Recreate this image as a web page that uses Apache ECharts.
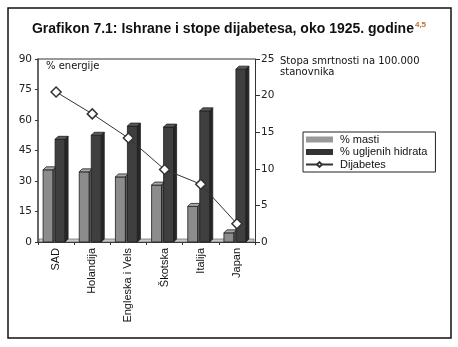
<!DOCTYPE html>
<html>
<head>
<meta charset="utf-8">
<script src="https://cdn.jsdelivr.net/npm/echarts@6/dist/echarts.min.js"></script>
<style>
  html, body { margin: 0; padding: 0; background: #fff; }
  #chart { width: 458px; height: 347px; }
</style>
</head>
<body>
<div id="chart"></div>
<script>
// Diet composition and diabetes mortality, around 1925
const countries = ['SAD', 'Holandija', 'Engleska i Vels', 'Škotska', 'Italija', 'Japan'];
const fatShare = [35.5, 34.5, 32, 28, 17.5, 4.5];          // % energije iz masti
const carbShare = [50.5, 52.5, 57, 56.5, 64.5, 85];        // % energije iz ugljenih hidrata
const diabetesRate = [20.5, 17.5, 14.2, 9.9, 7.9, 2.5];    // smrtnost na 100.000 stanovnika
const leftTicks = [0, 15, 30, 45, 60, 75, 90];
const rightTicks = [0, 5, 10, 15, 20, 25];

const chart = echarts.init(document.getElementById('chart'));

// Pseudo-3D column: front face, top face and right side face
function columnRenderer(offset, faces) {
  return function (params, api) {
    const idx = api.value(0);
    const top = api.coord([idx, api.value(1)]);
    const base = api.coord([idx, 0]);
    const w = 10, d = 3;
    const x0 = top[0] + offset;
    const y0 = top[1];
    const y1 = base[1];
    return {
      type: 'group',
      children: [
        { type: 'rect', shape: { x: x0, y: y0, width: w, height: y1 - y0 },
          style: { fill: faces.front, stroke: '#1e1e1e', lineWidth: 0.8 } },
        { type: 'polygon', shape: { points: [[x0, y0], [x0 + d, y0 - d], [x0 + w + d, y0 - d], [x0 + w, y0]] },
          style: { fill: faces.top, stroke: '#1e1e1e', lineWidth: 0.8 } },
        { type: 'polygon', shape: { points: [[x0 + w, y0], [x0 + w + d, y0 - d], [x0 + w + d, y1 - d], [x0 + w, y1]] },
          style: { fill: faces.side, stroke: '#1e1e1e', lineWidth: 0.8 } }
      ]
    };
  };
}

const fatFaces = { front: '#8c8c8c', top: '#a8a8a8', side: '#5e5e5e' };
const carbFaces = { front: '#3f3f3f', top: '#5a5a5a', side: '#262626' };

const option = {
  animation: false,
  backgroundColor: '#fff',
  title: {
    text: '{m|Grafikon 7.1: Ishrane i stope dijabetesa, oko 1925. godine}{s|4,5}',
    left: 'center',
    top: 16,
    textStyle: {
      rich: {
        m: { fontFamily: 'Liberation Sans', fontWeight: 'bold', fontSize: 14, color: '#111' },
        s: { fontFamily: 'Liberation Sans', fontSize: 8, color: '#c8702a', verticalAlign: 'top', padding: [0, 0, 8, 1] }
      }
    }
  },
  grid: { left: 38, right: 203, top: 59, bottom: 105 },
  legend: {
    orient: 'vertical',
    left: 303,
    top: 132,
    padding: [2, 8, 2, 2],
    itemGap: 1.5,
    itemWidth: 27,
    itemHeight: 6,
    borderColor: '#222',
    borderWidth: 1,
    textStyle: { fontFamily: 'Liberation Sans', fontSize: 11, color: '#111', padding: [0, 0, 0, 2] },
    data: [
      { name: '% masti', icon: 'rect', itemStyle: { color: '#999', borderWidth: 0 } },
      { name: '% ugljenih hidrata', icon: 'rect', itemStyle: { color: '#333', borderWidth: 0 } },
      { name: 'Dijabetes' }
    ]
  },
  xAxis: {
    type: 'category',
    data: countries,
    boundaryGap: true,
    axisLine: { lineStyle: { color: '#333', width: 1 } },
    axisTick: { show: true, alignWithLabel: false, length: 3, lineStyle: { color: '#333' } },
    axisLabel: {
      rotate: 90,
      margin: 6,
      interval: 0,
      fontFamily: 'Liberation Sans',
      fontSize: 11,
      color: '#111'
    }
  },
  yAxis: [
    {
      type: 'value',
      min: 0, max: 90, interval: 15,
      position: 'left',
      axisLine: { show: true, lineStyle: { color: '#333', width: 1.5 } },
      axisTick: { show: true, length: 3, lineStyle: { color: '#333' } },
      splitLine: { show: false },
      axisLabel: {
        margin: 6,
        fontFamily: 'DejaVu Sans',
        fontSize: 10.5,
        color: '#222',
        formatter: v => (leftTicks.includes(v) ? String(v) : '')
      }
    },
    {
      type: 'value',
      min: 0, max: 25, interval: 5,
      position: 'right',
      axisLine: { show: true, lineStyle: { color: '#333', width: 1 } },
      axisTick: { show: true, length: 5, lineStyle: { color: '#333' } },
      splitLine: { show: false },
      axisLabel: {
        margin: 6,
        fontFamily: 'DejaVu Sans',
        fontSize: 10.5,
        color: '#222',
        formatter: v => (rightTicks.includes(v) ? String(v) : '')
      }
    }
  ],
  graphic: [
    // outer frame
    { type: 'rect', shape: { x: 8, y: 8, width: 443, height: 330 },
      style: { fill: 'none', stroke: '#111', lineWidth: 1.5 }, z: 100 },
    // plot frame (top edge)
    { type: 'line', shape: { x1: 38, y1: 59, x2: 255, y2: 59 },
      style: { stroke: '#333', lineWidth: 1 }, z: 10 },
    // floor strip
    { type: 'rect', shape: { x: 39, y: 239, width: 215, height: 3 },
      style: { fill: '#c8c8c8', stroke: '#555', lineWidth: 0.6 }, z: 1 },
    { type: 'text', left: 46, top: 61,
      style: { text: '% energije', font: '10px DejaVu Sans', fill: '#111' } },
    { type: 'text', left: 280, top: 56,
      style: { text: 'Stopa smrtnosti na 100.000\nstanovnika', font: '10px DejaVu Sans', fill: '#111', lineHeight: 11 } }
  ],
  series: [
    {
      name: '% masti',
      type: 'custom',
      yAxisIndex: 0,
      itemStyle: { color: '#999' },
      renderItem: columnRenderer(-13, fatFaces),
      encode: { x: 0, y: 1 },
      data: fatShare.map((v, i) => [i, v]),
      z: 3
    },
    {
      name: '% ugljenih hidrata',
      type: 'custom',
      yAxisIndex: 0,
      itemStyle: { color: '#333' },
      renderItem: columnRenderer(-1, carbFaces),
      encode: { x: 0, y: 1 },
      data: carbShare.map((v, i) => [i, v]),
      z: 3
    },
    {
      name: 'Dijabetes',
      type: 'line',
      yAxisIndex: 1,
      data: diabetesRate,
      symbol: 'diamond',
      symbolSize: 10,
      lineStyle: { color: '#333', width: 1 },
      itemStyle: { color: '#fff', borderColor: '#333', borderWidth: 1.5 },
      z: 5
    }
  ]
};

chart.setOption(option);
</script>
</body>
</html>
